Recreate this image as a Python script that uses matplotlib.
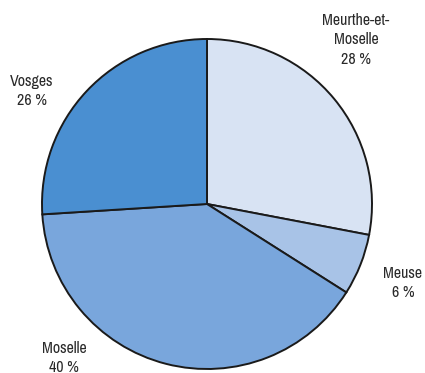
import matplotlib.pyplot as plt

plt.rcParams['font.family'] = ['Archivo Narrow', 'DejaVu Sans']

# data
departements = ['Meurthe-et-\nMoselle', 'Meuse', 'Moselle', 'Vosges']
shares = [28, 6, 40, 26]
colors = ['#d8e3f3', '#a8c3e7', '#79a6dc', '#4a8fd1']

# label positions in pixel space (y from bottom)
label_pos = [(356, 333), (403, 90), (64, 15), (32, 282)]

fig = plt.figure(figsize=(4.25, 3.73), dpi=100)
ax = fig.add_axes([0, 0, 1, 1])

ax.pie(shares, colors=colors, startangle=90, counterclock=False,
       center=(207, 169), radius=165, frame=True,
       wedgeprops={'edgecolor': '#1a1a1a', 'linewidth': 1.4})
ax.set_xlim(0, 425)
ax.set_ylim(0, 373)
ax.set_aspect('equal')
ax.axis('off')

for name, val, (x, y) in zip(departements, shares, label_pos):
    ax.text(x, y, f'{name}\n{val} %', ha='center', va='center',
            fontsize=11.5, color='#2a2a2a', linespacing=1.35)

fig.savefig('out.png', dpi=100)
